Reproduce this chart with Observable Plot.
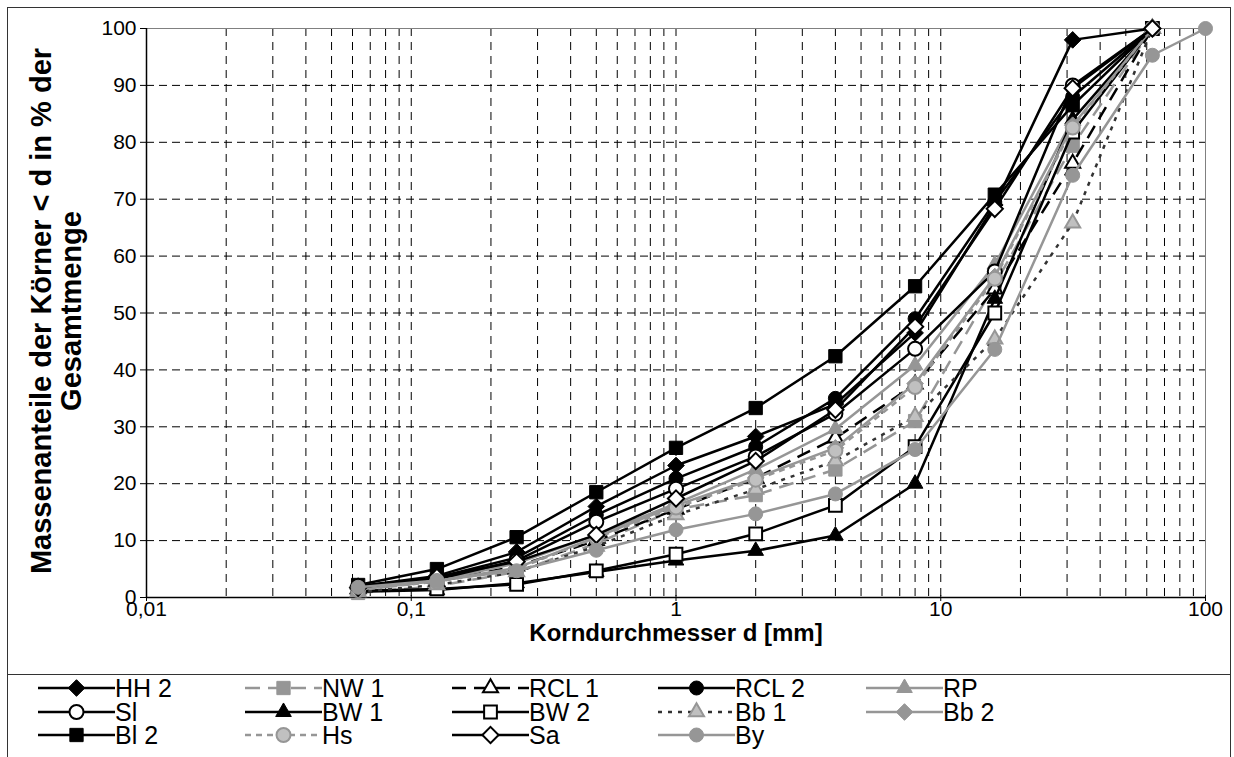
<!DOCTYPE html>
<html><head><meta charset="utf-8">
<script src="https://cdn.jsdelivr.net/npm/d3@7"></script>
<script src="https://cdn.jsdelivr.net/npm/@observablehq/plot@0.6"></script>
<style>
body{margin:0;background:#fff;font-family:"Liberation Sans",Arial,sans-serif;}
#wrap{position:relative;width:1234px;height:757px;overflow:hidden;background:#fff;}
#chartbox{position:absolute;left:7px;top:7px;width:1224px;height:668px;border:1px solid #333;box-sizing:border-box;}
#legendbox{position:absolute;left:7px;top:674px;width:1224px;height:120px;border:1px solid #333;box-sizing:border-box;}
#plot{position:absolute;left:0;top:0;}
#ytitle{position:absolute;left:56px;top:311px;transform:translate(-50%,-50%) rotate(-90deg);font-weight:bold;font-size:29px;line-height:30px;text-align:center;white-space:nowrap;}
#xtitle{position:absolute;left:676px;top:633px;transform:translate(-50%,-50%);font-weight:bold;font-size:24px;line-height:24px;white-space:nowrap;}
.leg{position:absolute;height:22px;display:flex;align-items:center;font-size:25px;line-height:22px;white-space:nowrap;}
.leg svg{display:block;}
</style></head>
<body><div id="wrap">
<div id="chartbox"></div>
<div id="legendbox"></div>
<div id="plot"></div>
<div id="ytitle">Massenanteile der Körner &lt; d in % der<br>Gesamtmenge</div>
<div id="xtitle">Korndurchmesser d [mm]</div>
</div>
<script>
// Sieve sizes (mm)
const sieve   = [0.063, 0.125, 0.25, 0.5, 1, 2, 4, 8, 16, 31.5, 63];
const sieveBy = [0.063, 0.125, 0.25, 0.5, 1, 2, 4, 8, 16, 31.5, 63, 100];

// Percent passing per sample
const HH2  = [2.0, 3.8, 8.0, 16.0, 23.2, 28.3, 34.0, 46.5, 69.0, 98.0, 100];
const NW1  = [0.8, 2.0, 4.5, 9.5, 15.5, 18.0, 22.5, 31.0, 55.0, 79.4, 100];
const RCL1 = [1.5, 2.8, 5.5, 10.0, 15.5, 21.0, 28.0, 37.5, 54.2, 76.3, 100];
const RCL2 = [2.0, 3.5, 7.0, 14.5, 20.9, 26.5, 35.0, 49.0, 69.5, 88.0, 100];
const RP   = [1.5, 3.0, 6.0, 11.0, 16.5, 22.5, 29.6, 40.8, 58.5, 84.0, 100];
const Sl   = [1.8, 3.2, 6.5, 13.3, 19.1, 24.8, 32.3, 43.7, 57.3, 90.0, 100];
const BW1  = [1.0, 1.3, 2.5, 4.5, 6.5, 8.2, 10.9, 20.0, 52.5, 84.0, 100];
const BW2  = [1.2, 1.5, 2.3, 4.7, 7.6, 11.2, 16.2, 26.5, 50.0, 81.8, 100];
const Bb1  = [1.0, 2.2, 4.5, 9.0, 14.5, 19.0, 24.0, 31.8, 45.4, 65.8, 100];
const Bb2  = [1.4, 2.9, 5.2, 10.6, 16.2, 21.0, 26.3, 37.6, 56.4, 83.0, 100];
const Bl2  = [2.2, 5.0, 10.6, 18.5, 26.3, 33.3, 42.4, 54.7, 70.8, 86.5, 100];
const Hs   = [1.3, 2.8, 5.0, 10.5, 15.8, 20.7, 25.8, 37.0, 56.0, 82.6, 100];
const Sa   = [1.7, 3.6, 6.3, 11.0, 17.4, 24.0, 33.0, 47.6, 68.3, 89.5, 100];
const By   = [1.8, 3.0, 4.7, 8.3, 11.9, 14.7, 18.2, 26.0, 43.6, 74.2, 95.3, 100];

const seriesNames = ["HH 2","NW 1","RCL 1","RCL 2","RP","Sl","BW 1","BW 2","Bb 1","Bb 2","Bl 2","Hs","Sa","By"];
const seriesValues = [HH2, NW1, RCL1, RCL2, RP, Sl, BW1, BW2, Bb1, Bb2, Bl2, Hs, Sa, By];

const xTicks = [0.01, 0.1, 1, 10, 100];
const xTickLabels = ["0,01", "0,1", "1", "10", "100"];
const yTicks = [0, 10, 20, 30, 40, 50, 60, 70, 80, 90, 100];

const BLACK = "#000", GRAY = "#969696", LIGHT = "#c0c0c0", WHITE = "#fff";
const styles = {
  "HH 2": {stroke: BLACK, dash: null,   symbol: "diamond2", fill: BLACK, ms: BLACK, msw: 1, r: 7.5},
  "NW 1": {stroke: GRAY,  dash: "15,8", symbol: "square",   fill: GRAY,  ms: GRAY,  msw: 1, r: 7.5},
  "RCL 1":{stroke: BLACK, dash: "14,8", symbol: "triangle", fill: WHITE, ms: BLACK, msw: 2, r: 5.6},
  "RCL 2":{stroke: BLACK, dash: null,   symbol: "circle",   fill: BLACK, ms: BLACK, msw: 1, r: 7},
  "RP":   {stroke: GRAY,  dash: null,   symbol: "triangle", fill: GRAY,  ms: GRAY,  msw: 1, r: 5.8},
  "Sl":   {stroke: BLACK, dash: null,   symbol: "circle",   fill: WHITE, ms: BLACK, msw: 2, r: 7},
  "BW 1": {stroke: BLACK, dash: null,   symbol: "triangle", fill: BLACK, ms: BLACK, msw: 1, r: 5.8},
  "BW 2": {stroke: BLACK, dash: null,   symbol: "square",   fill: WHITE, ms: BLACK, msw: 2, r: 7.2},
  "Bb 1": {stroke: "#333",dash: "4,6",  symbol: "triangle", fill: LIGHT, ms: GRAY,  msw: 2, r: 5.6},
  "Bb 2": {stroke: GRAY,  dash: null,   symbol: "diamond2", fill: GRAY,  ms: GRAY,  msw: 1, r: 7.5},
  "Bl 2": {stroke: BLACK, dash: null,   symbol: "square",   fill: BLACK, ms: BLACK, msw: 1, r: 7.5},
  "Hs":   {stroke: GRAY,  dash: "6,5",  symbol: "circle",   fill: LIGHT, ms: GRAY,  msw: 2, r: 7},
  "Sa":   {stroke: BLACK, dash: null,   symbol: "diamond2", fill: WHITE, ms: BLACK, msw: 2, r: 7.3},
  "By":   {stroke: GRAY,  dash: null,   symbol: "circle",   fill: GRAY,  ms: GRAY,  msw: 1, r: 7}
};

// gridline positions on the log axis
const gridX = [];
for (const dec of [0.01, 0.1, 1, 10]) for (let m = 1; m <= 9; m++) { const v = +(dec * m).toPrecision(3); if (v > 0.01) gridX.push(v); }

const seriesMarks = [];
seriesNames.forEach((name, i) => {
  const vals = seriesValues[i];
  const xs = name === "By" ? sieveBy : sieve;
  const data = vals.map((v, j) => ({x: xs[j], y: v}));
  const s = styles[name];
  seriesMarks.push(Plot.line(data, {x: "x", y: "y", stroke: s.stroke, strokeWidth: 2.5, strokeDasharray: s.dash || undefined, strokeLinecap: "butt"}));
  seriesMarks.push(Plot.dot(data, {x: "x", y: "y", symbol: s.symbol, r: s.r, fill: s.fill, stroke: s.ms, strokeWidth: s.msw}));
});

const chart = Plot.plot({
  width: 1234, height: 674,
  marginLeft: 146, marginRight: 29, marginTop: 28, marginBottom: 77,
  x: {type: "log", domain: [0.01, 100]},
  y: {domain: [0, 100]},
  style: {fontFamily: "'Liberation Sans', Arial, sans-serif", fontSize: "21px", color: "#000", background: "transparent", overflow: "visible"},
  marks: [
    Plot.ruleY(yTicks.filter(d => d > 0 && d < 100), {stroke: "#000", strokeWidth: 1, strokeDasharray: "8,5"}),
    Plot.ruleX(gridX, {stroke: "#000", strokeWidth: 1, strokeDasharray: "8,6"}),
    Plot.frame({stroke: "#808080", strokeWidth: 1}),
    Plot.ruleY([0], {stroke: "#000", strokeWidth: 1.5}),
    Plot.ruleX([0.01], {stroke: "#000", strokeWidth: 1.5}),
    Plot.axisY({ticks: yTicks, tickSize: 6, tickPadding: 4, label: null, fontSize: 21}),
    Plot.axisX({ticks: xTicks, tickFormat: d => xTickLabels[xTicks.indexOf(d)], tickSize: 6, tickPadding: 0, dy: -2, label: null, fontSize: 21}),
    ...seriesMarks
  ]
});
document.getElementById("plot").appendChild(chart);

// Legend
const symbolTypes = {circle: d3.symbolCircle, square: d3.symbolSquare, triangle: d3.symbolTriangle, diamond2: d3.symbolDiamond2};
const colX = [38, 245, 452, 658, 866];
const rowY = [688, 712, 735];
const wrap = document.getElementById("wrap");
seriesNames.forEach((name, i) => {
  const s = styles[name];
  const col = i % 5, row = Math.floor(i / 5);
  const div = document.createElement("div");
  div.className = "leg";
  div.style.left = colX[col] + "px";
  div.style.top = (rowY[row] - 11) + "px";
  const svg = d3.create("svg").attr("width", 77).attr("height", 22).style("overflow", "visible");
  svg.append("line").attr("x1", 0).attr("x2", 77).attr("y1", 11).attr("y2", 11)
    .attr("stroke", s.stroke).attr("stroke-width", 2.5).attr("stroke-dasharray", s.dash || null);
  svg.append("path").attr("transform", "translate(38.5,11)")
    .attr("d", d3.symbol(symbolTypes[s.symbol], Math.PI * s.r * s.r)())
    .attr("fill", s.fill).attr("stroke", s.ms).attr("stroke-width", s.msw);
  div.appendChild(svg.node());
  const span = document.createElement("span");
  span.textContent = name;
  div.appendChild(span);
  wrap.appendChild(div);
});
</script>
</body></html>
